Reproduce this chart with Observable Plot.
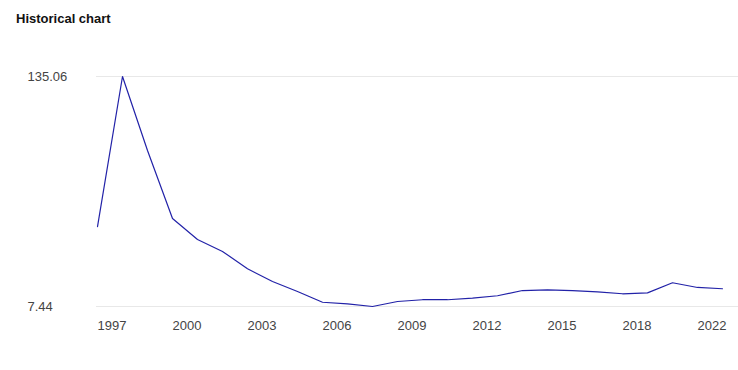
<!DOCTYPE html>
<html>
<head>
<meta charset="utf-8">
<script src="https://cdn.jsdelivr.net/npm/d3@7"></script>
<script src="https://cdn.jsdelivr.net/npm/@observablehq/plot@0.6"></script>
<style>
  html, body { margin: 0; padding: 0; background: #fff; }
  #title {
    height: 36px; box-sizing: border-box; padding: 11px 0 0 16px;
    font: bold 13px/16px "Liberation Sans", Arial, sans-serif; color: #111;
  }
  #chart svg { display: block; }
</style>
</head>
<body>
<div id="title">Historical chart</div>
<div id="chart"></div>
<script>
const values = [51.8, 135.06, 94.0, 56.3, 44.6, 38.0, 28.4, 21.3, 15.8, 9.8, 8.9, 7.44, 10.2, 11.2, 11.2, 12.1, 13.4, 16.3, 16.7, 16.2, 15.6, 14.5, 15.0, 20.6, 18.0, 17.3];
const xTickPositions = [0, 3, 6, 9, 12, 15, 18, 21, 24];
const xTickLabels = ["1997", "2000", "2003", "2006", "2009", "2012", "2015", "2018", "2022"];
const yTicks = [7.44, 135.06];
const yTickLabels = ["7.44", "135.06"];

const data = values.map((v, i) => ({i, v}));

const chart = Plot.plot({
  width: 738,
  height: 334,
  marginLeft: 96,
  marginRight: 0,
  marginTop: 40,
  marginBottom: 64,
  style: {fontFamily: '"Liberation Sans", Arial, sans-serif', fontSize: "13px", color: "#444", background: "#fff"},
  x: {type: "linear", domain: [-0.04, 25.64]},
  y: {domain: [7.44, 135.06]},
  marks: [
    Plot.ruleY(yTicks, {stroke: "#e8e8e8", strokeWidth: 1}),
    Plot.axisY({ticks: yTicks, tickSize: 0, tickPadding: 69, textAnchor: "start", label: null,
      tickFormat: (d) => yTickLabels[yTicks.indexOf(d)], fill: "#444"}),
    Plot.axisX({ticks: xTickPositions, tickSize: 0, tickPadding: 14, textAnchor: "start", label: null,
      tickFormat: (d) => xTickLabels[xTickPositions.indexOf(d)], fill: "#444"}),
    Plot.line(data, {x: "i", y: "v", stroke: "#2222a8", strokeWidth: 1.2})
  ]
});
document.getElementById("chart").appendChild(chart);
</script>
</body>
</html>
